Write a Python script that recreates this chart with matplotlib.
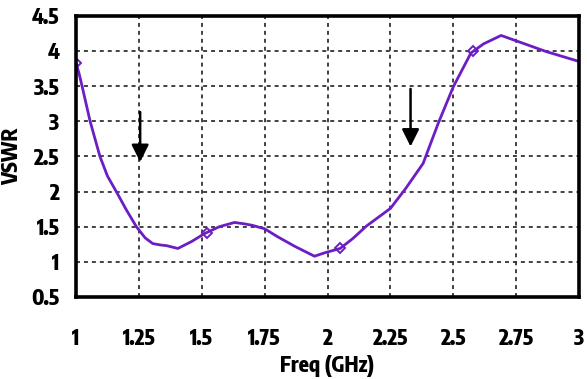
import matplotlib.pyplot as plt

# measured VSWR trace
freq = [1.0, 1.012, 1.024, 1.056, 1.095, 1.125, 1.16, 1.20, 1.24, 1.275,
        1.305, 1.335, 1.36, 1.405, 1.46, 1.51, 1.57, 1.63, 1.67, 1.70,
        1.75, 1.80, 1.87, 1.948, 1.99, 2.05, 2.10, 2.155, 2.25, 2.31, 2.38,
        2.44, 2.50, 2.57, 2.62, 2.69, 2.87, 3.0]
vswr = [3.83, 3.68, 3.5, 3.0, 2.5, 2.22, 2.0, 1.74, 1.5, 1.34,
        1.26, 1.24, 1.23, 1.19, 1.29, 1.4, 1.5, 1.56, 1.54, 1.52,
        1.47, 1.36, 1.22, 1.08, 1.13, 1.19, 1.33, 1.51, 1.76, 2.04, 2.4,
        2.97, 3.49, 3.97, 4.1, 4.22, 3.99, 3.85]
mark_f = [1.0, 1.52, 2.05, 2.58]
mark_v = [3.83, 1.41, 1.19, 4.0]

xticks = [1, 1.25, 1.5, 1.75, 2, 2.25, 2.5, 2.75, 3]
xticklabels = ['1', '1.25', '1.5', '1.75', '2', '2.25', '2.5', '2.75', '3']
yticks = [0.5, 1, 1.5, 2, 2.5, 3, 3.5, 4, 4.5]
yticklabels = ['0.5', '1', '1.5', '2', '2.5', '3', '3.5', '4', '4.5']

# arrows marking the two bands: (x, start y, end y)
arrows = [(1.255, 3.13, 2.42), (2.33, 3.46, 2.64)]

plt.rcParams['font.family'] = ['Encode Sans Condensed', 'DejaVu Sans']

fig = plt.figure(figsize=(5.87, 3.79), dpi=100)
ax = fig.add_axes([0.1295, 0.2164, 0.857, 0.742])

line_c = '#6c1ec4'
ax.plot(freq, vswr, color=line_c, lw=2.0)
ax.plot(mark_f, mark_v, ls='none', marker='D', ms=5, mfc='none', mec=line_c, mew=1.4)

for x, y0, y1 in arrows:
    ax.annotate('', xy=(x, y1), xytext=(x, y0),
                arrowprops=dict(arrowstyle='-|>', color='black', lw=1.8,
                                mutation_scale=26, shrinkA=0, shrinkB=0))

ax.set_xlim(1, 3)
ax.set_ylim(0.5, 4.5)
ax.set_xticks(xticks)
ax.set_xticklabels(xticklabels)
ax.set_yticks(yticks)
ax.set_yticklabels(yticklabels)
ax.grid(True, color='#333333', ls=(0, (2.2, 2.2)), lw=1.3)
ax.tick_params(length=0, labelsize=15, width=0)
ax.tick_params(axis='x', pad=22)
ax.tick_params(axis='y', pad=12)
for lab in ax.get_xticklabels() + ax.get_yticklabels():
    lab.set_fontweight(800)
for s in ax.spines.values():
    s.set_linewidth(2.6)

ax.set_xlabel('Freq (GHz)', fontsize=15, fontweight=800, labelpad=4)
ax.set_ylabel('VSWR', fontsize=15, fontweight=800, labelpad=6)

fig.savefig('out.png', dpi=100)
